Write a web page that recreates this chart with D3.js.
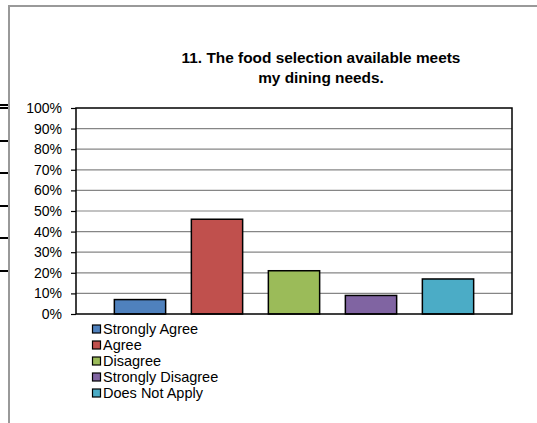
<!DOCTYPE html>
<html><head><meta charset="utf-8">
<script src="https://cdn.jsdelivr.net/npm/d3@7"></script>
<style>html,body{margin:0;padding:0;background:#fff;}svg{display:block;}</style>
</head><body>
<script>
const categories = ["Strongly Agree", "Agree", "Disagree", "Strongly Disagree", "Does Not Apply"];
const values = [0.07, 0.46, 0.21, 0.09, 0.17];
const colors = ["#4F81BD", "#C0504D", "#9BBB59", "#8064A2", "#4BACC6"];
const yTicks = [0, 0.1, 0.2, 0.3, 0.4, 0.5, 0.6, 0.7, 0.8, 0.9, 1.0];
const titleLines = ["11. The food selection available meets", "my dining needs."];
const edgeMarks = [105, 108, 141, 173, 206, 238, 271];

const W = 537, H = 423;
const svg = d3.select("body").append("svg").attr("width", W).attr("height", H);
svg.append("rect").attr("width", W).attr("height", H).attr("fill", "#fff");

svg.selectAll("line.edge").data(edgeMarks).enter().append("line")
  .attr("x1", 0).attr("x2", 8).attr("y1", d => d).attr("y2", d => d)
  .attr("stroke", "#000").attr("stroke-width", 2);

svg.append("path").attr("d", `M9,${H} L9,6 L${W},6`).attr("fill", "none")
  .attr("stroke", "#999").attr("stroke-width", 2);

svg.append("text").attr("x", 321).attr("y", 63).attr("text-anchor", "middle")
  .attr("font-family", "Liberation Sans, Arial, sans-serif").attr("font-weight", "bold")
  .attr("font-size", "15.4px").attr("fill", "#000")
  .selectAll("tspan").data(titleLines).enter().append("tspan")
  .attr("x", 321).attr("dy", (d, i) => i === 0 ? 0 : 20).text(d => d);

const L = 76, R = 512, T = 108, B = 314;
const x = d3.scaleBand().domain(categories).range([L, R]).paddingInner(0.334).paddingOuter(0.498);
const y = d3.scaleLinear().domain([0, 1]).range([B, T]);

svg.append("g").selectAll("line").data(yTicks.slice(1, -1)).enter().append("line")
  .attr("x1", L).attr("x2", R).attr("y1", d => y(d)).attr("y2", d => y(d))
  .attr("stroke", "#868686").attr("stroke-width", 1.2);

const yAxis = d3.axisLeft(y).tickValues(yTicks).tickFormat(d3.format(".0%")).tickSize(5).tickPadding(9);
const ga = svg.append("g").attr("transform", `translate(${L},0)`).call(yAxis);
ga.select(".domain").remove();
ga.selectAll(".tick line").attr("stroke", "#000").attr("stroke-width", 1.2);
ga.selectAll(".tick text").attr("font-family", "Liberation Sans, Arial, sans-serif")
  .attr("font-size", "14px").attr("fill", "#000");

svg.append("g").selectAll("rect").data(categories).enter().append("rect")
  .attr("x", d => x(d)).attr("width", x.bandwidth())
  .attr("y", (d, i) => y(values[i])).attr("height", (d, i) => y(0) - y(values[i]))
  .attr("fill", (d, i) => colors[i]).attr("stroke", "#000").attr("stroke-width", 1.5);

svg.append("rect").attr("x", L).attr("y", T).attr("width", R - L).attr("height", B - T)
  .attr("fill", "none").attr("stroke", "#000").attr("stroke-width", 1.5);

const lg = svg.append("g").selectAll("g").data(categories).enter().append("g")
  .attr("transform", (d, i) => `translate(92,${329 + i * 16})`);
lg.append("rect").attr("x", 0.5).attr("y", -4).attr("width", 8).attr("height", 8)
  .attr("fill", (d, i) => colors[i]).attr("stroke", "#000").attr("stroke-width", 1.2);
lg.append("text").attr("x", 11).attr("y", 0).attr("dy", "0.35em")
  .attr("font-family", "Liberation Sans, Arial, sans-serif").attr("font-size", "14.5px")
  .attr("fill", "#000").text(d => d);
</script>
</body></html>
